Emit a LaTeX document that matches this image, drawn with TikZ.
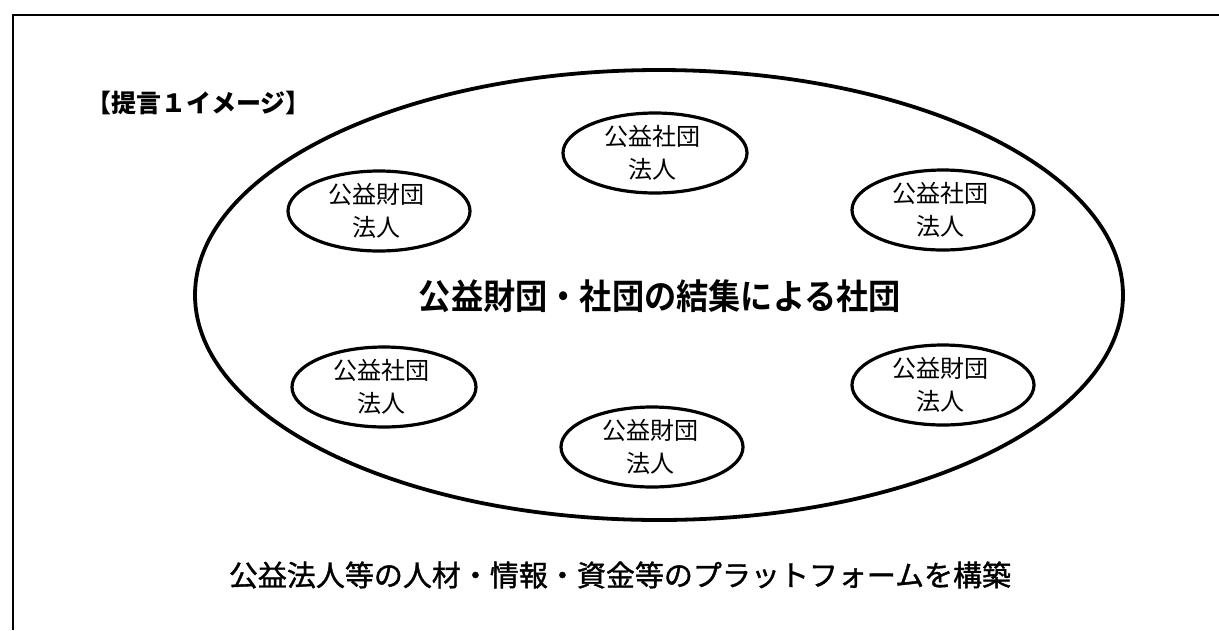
\documentclass[tikz,border=0pt]{standalone}
\usepackage{fontspec}
\newfontfamily\jp{Noto Sans CJK JP}
\newfontfamily\jpm[FakeBold=1.3]{Noto Sans CJK JP}
\newfontfamily\jpc[FakeStretch=0.92]{Noto Sans CJK JP Bold}
\tikzset{
  smallline/.style={draw=black, line width=3.2pt},
  smalltxt/.style={font=\jp\fontsize{24}{33}\selectfont, align=center, inner sep=0pt},
}
\begin{document}
\begin{tikzpicture}[x=1pt,y=-1pt]
\useasboundingbox (0,0) rectangle (1219,630);
\fill[white] (0,0) rectangle (1219,630);
\draw[line width=2.6pt] (1219,15) -- (13,15) -- (13,630);
\node[font=\jp\bfseries\fontsize{25}{25}\selectfont, anchor=west, inner sep=0pt] (title) at (86,103) {【提言１イメージ】};
\draw[line width=3.8pt] (659,295) ellipse [x radius=464, y radius=225];
\node[font=\jpc\fontsize{35}{35}\selectfont, inner sep=0pt] (main) at (660,296) {公益財団・社団の結集による社団};
\draw[smallline] (655,153) ellipse [x radius=92, y radius=40];
\node[smalltxt] (t1) at (652,153) {公益社団\\法人};
\draw[smallline] (379,211) ellipse [x radius=91, y radius=40];
\node[smalltxt] (t2) at (376,211) {公益財団\\法人};
\draw[smallline] (943,210) ellipse [x radius=91, y radius=40];
\node[smalltxt] (t3) at (940,210) {公益社団\\法人};
\draw[smallline] (384,387) ellipse [x radius=92, y radius=40];
\node[smalltxt] (t4) at (381,387) {公益社団\\法人};
\draw[smallline] (943,385) ellipse [x radius=91, y radius=40];
\node[smalltxt] (t5) at (940,385) {公益財団\\法人};
\draw[smallline] (652,447) ellipse [x radius=91, y radius=40];
\node[smalltxt] (t6) at (650,447) {公益財団\\法人};
\node[font=\jpm\fontsize{29}{29}\selectfont, inner sep=0pt] (bottom) at (620,575) {公益法人等の人材・情報・資金等のプラットフォームを構築};
\end{tikzpicture}
\end{document}
